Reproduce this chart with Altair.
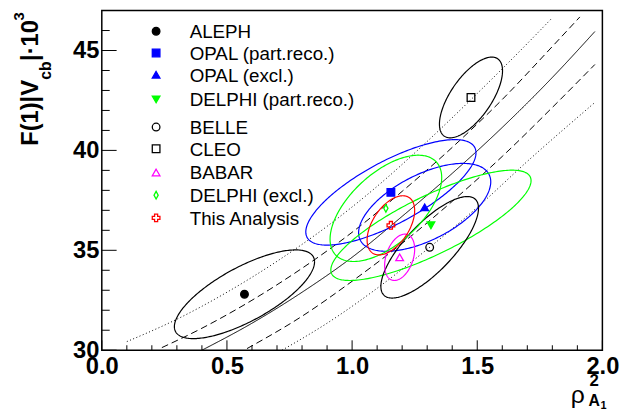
import altair as alt
import numpy as np
import pandas as pd

# ---------------- data ----------------
names = ["ALEPH", "OPAL (part.reco.)", "OPAL (excl.)", "DELPHI (part.reco.)",
         "BELLE", "CLEO", "BABAR", "DELPHI (excl.)", "This Analysis"]
rho2 = [0.57, 1.155, 1.29, 1.315, 1.31, 1.475, 1.19, 1.135, 1.155]
fvcb = [32.8, 37.9, 37.15, 36.25, 35.15, 42.65, 34.65, 37.1, 36.25]
sig_rho2 = [0.28, 0.34, 0.264, 0.40, 0.195, 0.126, 0.06, 0.223, 0.095]
sig_fvcb = [2.22, 2.64, 2.2, 2.76, 2.54, 2.02, 1.16, 2.66, 1.48]
corr = [0.73, 0.75, 0.58, 0.81, 0.77, 0.66, 0.35, 0.58, 0.5]

colors = ["#000000", "#0000ff", "#0000ff", "#00ff00", "#000000", "#000000",
          "#ff00ff", "#00ff00", "#ff0000"]
fills = ["#000000", "#0000ff", "#0000ff", "#00ff00", "transparent", "transparent",
         "transparent", "transparent", "transparent"]
shapes = ["circle", "square", "triangle-up", "triangle-down", "circle", "square",
          "triangle-up", "M0,-1L0.55,0L0,1L-0.55,0Z", "cross"]
legend_rows_px = [21, 43, 65, 90, 118, 140, 164, 187, 210]

solid_x = [0.40, 0.60, 0.80, 1.00, 1.20, 1.40, 1.60, 1.80, 1.97]
solid_y = [30.0, 31.35, 32.9, 34.65, 36.7, 38.85, 41.15, 43.65, 45.95]
dash_up_x = [0.24, 0.40, 0.60, 0.80, 1.00, 1.20, 1.40, 1.60, 1.80, 1.91]
dash_up_y = [30.13, 31.1, 32.5, 34.1, 35.9, 37.95, 40.15, 42.55, 45.2, 46.68]
dash_lo_x = [0.58, 0.80, 1.00, 1.20, 1.40, 1.60, 1.80, 1.97]
dash_lo_y = [30.08, 31.7, 33.45, 35.35, 37.45, 39.7, 42.15, 44.3]
dot_up_x = [0.10, 0.30, 0.50, 0.70, 0.90, 1.10, 1.30, 1.50, 1.70, 1.80]
dot_up_y = [30.43, 31.55, 32.9, 34.45, 36.2, 38.2, 40.45, 42.85, 45.35, 46.64]
dot_lo_x = [0.72, 0.90, 1.10, 1.30, 1.50, 1.70, 1.97]
dot_lo_y = [30.0, 31.35, 33.1, 35.05, 37.15, 39.45, 42.4]

x_major = [0.0, 0.5, 1.0, 1.5, 2.0]
x_minor = [0.1, 0.2, 0.3, 0.4, 0.6, 0.7, 0.8, 0.9, 1.1, 1.2, 1.3, 1.4,
           1.6, 1.7, 1.8, 1.9]
y_major = [30, 35, 40, 45]
y_minor = [31, 32, 33, 34, 36, 37, 38, 39, 41, 42, 43, 44, 46]

# ---------------- tables ----------------
pts = pd.DataFrame({"name": names, "x": rho2, "y": fvcb})

t = np.linspace(0, 2 * np.pi, 241)
rows = []
for n, x0, y0, sx, sy, r in zip(names, rho2, fvcb, sig_rho2, sig_fvcb, corr):
    ex = x0 + sx * np.cos(t)
    ey = y0 + sy * (r * np.cos(t) + np.sqrt(1 - r * r) * np.sin(t))
    for k, (a, b) in enumerate(zip(ex, ey)):
        rows.append({"name": n, "x": a, "y": b, "k": k})
ell = pd.DataFrame(rows)

curves = []
for cid, style, xs, ys in [("s", "solid", solid_x, solid_y),
                           ("du", "dashed", dash_up_x, dash_up_y),
                           ("dl", "dashed", dash_lo_x, dash_lo_y),
                           ("pu", "dotted", dot_up_x, dot_up_y),
                           ("pl", "dotted", dot_lo_x, dot_lo_y)]:
    for a, b in zip(xs, ys):
        curves.append({"curve": cid, "style": style, "x": a, "y": b})
cur = pd.DataFrame(curves)

# ---------------- scales / axes ----------------
W, H = 507, 344
xs_ = alt.Scale(domain=[0, 2], nice=False, zero=False)
ys_ = alt.Scale(domain=[30, 47], nice=False, zero=False)
font = "Liberation Sans"
xaxis = alt.Axis(values=x_major, format=".1f", labelFont=font, labelFontWeight="bold",
                 labelFontSize=24, labelColor="black", ticks=False, domain=False,
                 grid=False, labelPadding=5, title=None, labelFlush=False,
                 labelOverlap=False)
yaxis = alt.Axis(values=y_major, format="d", labelFont=font, labelFontWeight="bold",
                 labelFontSize=24, labelColor="black", ticks=False, domain=False,
                 grid=False, labelPadding=3, title=None, labelFlush=False,
                 labelOverlap=False)
X = lambda f="x:Q": alt.X(f, scale=xs_, axis=xaxis)
Y = lambda f="y:Q": alt.Y(f, scale=ys_, axis=yaxis)

curve_layer = alt.Chart(cur).mark_line(color="black", strokeWidth=1, clip=True,
                                       interpolate="monotone").encode(
    x=X(), y=Y(), detail="curve:N",
    strokeDash=alt.StrokeDash("style:N", scale=alt.Scale(
        domain=["solid", "dashed", "dotted"], range=[[1, 0], [7, 4], [1, 2.5]]),
        legend=None))

ell_layer = alt.Chart(ell).mark_line(strokeWidth=1.2, clip=True).encode(
    x=X(), y=Y(), detail="name:N", order="k:Q",
    stroke=alt.Stroke("name:N", scale=alt.Scale(domain=names, range=colors), legend=None))

# markers (one layer per experiment) and the legend entries
marker_layers = []
legend_layers = []
for n, c, f, s, ry in zip(names, colors, fills, shapes, legend_rows_px):
    d = pts[pts["name"] == n]
    marker_layers.append(
        alt.Chart(d).mark_point(shape=s, size=60, strokeWidth=1.3, color=c,
                                fill=f, opacity=1, filled=False).encode(x=X(), y=Y()))
    legend_layers.append(
        alt.Chart(pd.DataFrame({"t": [n]})).mark_point(
            shape=s, size=60, strokeWidth=1.3, color=c, fill=f, opacity=1,
            filled=False).encode(x=alt.value(55), y=alt.value(ry)))
    legend_layers.append(
        alt.Chart(pd.DataFrame({"t": [n]})).mark_text(
            font=font, fontSize=19, align="left", baseline="middle",
            color="black").encode(text="t:N", x=alt.value(89), y=alt.value(ry + 1)))

# inward ticks
def xticks(vals, ln):
    return alt.Chart(pd.DataFrame({"v": vals})).mark_rule(color="black", strokeWidth=1).encode(
        x=X("v:Q"), y=alt.value(H), y2=alt.value(H - ln))

def yticks(vals, ln):
    return alt.Chart(pd.DataFrame({"v": vals})).mark_rule(color="black", strokeWidth=1).encode(
        y=Y("v:Q"), x=alt.value(0), x2=alt.value(ln))

# axis titles (pieces, for sub/superscripts)
def txt(s, x, y, size, angle=0, weight="bold"):
    return alt.Chart(pd.DataFrame({"t": [s]})).mark_text(
        font=font, fontSize=size, fontWeight=weight, angle=angle, align="left",
        baseline="alphabetic", color="black").encode(
        text="t:N", x=alt.value(x), y=alt.value(y))

titles = [
    txt("F(1)|V", -65, 137, 24, 270),
    txt("cb", -51, 70, 16, 270),
    txt("|\u00b710", -65, 51, 24, 270),
    txt("3", -79, 10, 15, 270),
    txt("\u03c1", 475, 397, 25, 0, "normal"),
    txt("2", 494, 380, 17),
    txt("A", 493, 401, 16),
    txt("1", 505, 404, 11),
]

chart = alt.layer(
    curve_layer, ell_layer,
    xticks(x_major, 10), xticks(x_minor, 5), yticks(y_major, 15), yticks(y_minor, 8),
    *marker_layers, *legend_layers, *titles
).properties(
    width=W, height=H,
    padding={"left": 95, "top": 0, "right": 31, "bottom": 59},
    autosize=alt.AutoSizeParams(type="none"),
    background="white"
).configure_view(stroke="black", strokeWidth=1.5)

chart.save("out.html", embed_options={"renderer": "svg", "actions": False})
